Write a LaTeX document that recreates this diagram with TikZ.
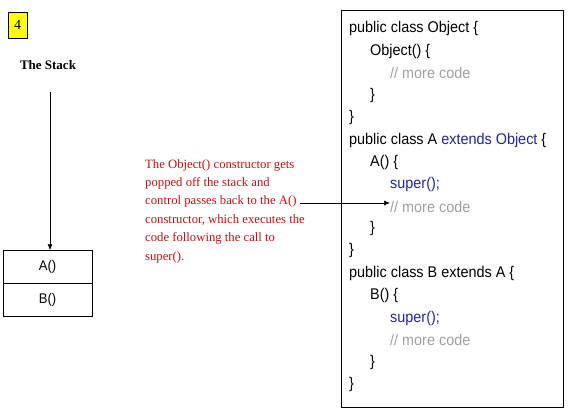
\documentclass[tikz,border=0pt]{standalone}
\usepackage{fontspec}
\setmainfont{Liberation Serif}
\newfontfamily\codefont[FakeStretch=0.93]{Liberation Sans}
\usetikzlibrary{arrows.meta}
\definecolor{redtxt}{RGB}{196,16,16}
\definecolor{kw}{RGB}{36,36,150}
\definecolor{cmt}{RGB}{160,160,160}
\definecolor{yel}{RGB}{255,255,0}
\tikzset{
  codeline/.style={anchor=west,inner sep=0pt,font=\codefont\fontsize{15.5}{17}\selectfont},
  cellbox/.style={draw,minimum width=89pt,minimum height=33pt,inner sep=0pt,font=\codefont\fontsize{14}{16}\selectfont},
  arr/.style={-{Latex[length=6pt,width=5pt]},line width=0.7pt}
}
\begin{document}
\begin{tikzpicture}[x=1pt,y=-1pt]
\useasboundingbox (0,0) rectangle (568,418);
\node[draw,fill=yel,minimum width=19pt,minimum height=26pt,inner sep=0pt,font=\fontsize{14}{16}\selectfont] (num) at (17.5,25) {4};
\node[font=\bfseries\fontsize{13}{15}\selectfont,inner sep=0pt] (title) at (48,65) {The Stack};
\node[cellbox] (ca) at (47.5,267) {A()};
\node[cellbox] (cb) at (47.5,300) {B()};
\coordinate (top) at (50,92);
\draw[arr] (top) -- (top |- ca.north);
\node[draw,line width=0.8pt,minimum width=222pt,minimum height=397pt,inner sep=0pt] (code) at (452,208.5) {};
\node[codeline] (l1) at (349,28) {public class Object \{};
\node[codeline] (l2) at (370,51) {Object() \{};
\node[codeline,text=cmt] (l3) at (390,73) {// more code};
\node[codeline] (l4) at (370,95) {\}};
\node[codeline] (l5) at (349,117) {\}};
\node[codeline] (l6) at (349,140) {public class A \textcolor{kw}{extends Object} \{};
\node[codeline] (l7) at (370,162) {A() \{};
\node[codeline,text=kw] (l8) at (390,184) {super();};
\node[codeline,text=cmt] (l9) at (390,207) {// more code};
\node[codeline] (l10) at (370,228) {\}};
\node[codeline] (l11) at (349,250) {\}};
\node[codeline] (l12) at (349,273) {public class B extends A \{};
\node[codeline] (l13) at (370,295) {B() \{};
\node[codeline,text=kw] (l14) at (390,318) {super();};
\node[codeline,text=cmt] (l15) at (390,340) {// more code};
\node[codeline] (l16) at (370,362) {\}};
\node[codeline] (l17) at (349,384) {\}};
\node[anchor=north west,inner sep=0pt,align=left,text=redtxt,font=\fontsize{12.7}{18.4}\selectfont] (note) at (145,159) {The Object() constructor gets\\popped off the stack and\\control passes back to the A()\\constructor, which executes the\\code following the call to\\super().};
\coordinate (src) at (300,203);
\draw[arr] (src) -- (l9.west |- src);
\end{tikzpicture}
\end{document}
